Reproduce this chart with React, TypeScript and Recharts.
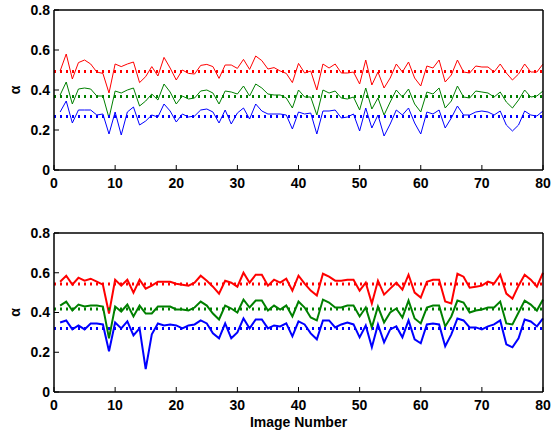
import React from "react";
import { LineChart, Line, XAxis, YAxis, ReferenceLine } from "recharts";

const imageNumbers = [
  1, 2, 3, 4, 5, 6, 7, 8, 9, 10, 11, 12, 13, 14, 15, 16, 17, 18, 19, 20,
  21, 22, 23, 24, 25, 26, 27, 28, 29, 30, 31, 32, 33, 34, 35, 36, 37, 38, 39, 40,
  41, 42, 43, 44, 45, 46, 47, 48, 49, 50, 51, 52, 53, 54, 55, 56, 57, 58, 59, 60,
  61, 62, 63, 64, 65, 66, 67, 68, 69, 70, 71, 72, 73, 74, 75, 76, 77, 78, 79, 80,
];

const xTicks = [0, 10, 20, 30, 40, 50, 60, 70, 80];
const yTicks = [0, 0.2, 0.4, 0.6, 0.8];

// upper panel
const topRed = [
  0.495, 0.58, 0.455, 0.537, 0.55, 0.53, 0.49, 0.483, 0.385, 0.53,
  0.517, 0.53, 0.54, 0.437, 0.467, 0.517, 0.47, 0.563, 0.51, 0.45,
  0.5, 0.483, 0.48, 0.523, 0.528, 0.517, 0.458, 0.525, 0.525, 0.508,
  0.553, 0.503, 0.57, 0.547, 0.505, 0.512, 0.495, 0.483, 0.437, 0.533,
  0.485, 0.495, 0.4, 0.53, 0.51, 0.53, 0.485, 0.485, 0.49, 0.43,
  0.55, 0.425, 0.49, 0.41, 0.46, 0.53, 0.49, 0.54, 0.46, 0.42,
  0.52, 0.51, 0.55, 0.44, 0.475, 0.55, 0.49, 0.485, 0.52, 0.515,
  0.515, 0.49, 0.53, 0.485, 0.45, 0.48, 0.53, 0.49, 0.49, 0.53,
];
const topGreen = [
  0.375, 0.44, 0.33, 0.405, 0.41, 0.405, 0.37, 0.37, 0.26, 0.395,
  0.385, 0.4, 0.41, 0.32, 0.345, 0.38, 0.35, 0.43, 0.39, 0.33,
  0.37, 0.355, 0.36, 0.395, 0.4, 0.385, 0.33, 0.395, 0.39, 0.38,
  0.42, 0.37, 0.43, 0.41, 0.38, 0.375, 0.375, 0.36, 0.31, 0.4,
  0.365, 0.365, 0.275, 0.4, 0.385, 0.395, 0.36, 0.355, 0.365, 0.3,
  0.41, 0.305, 0.36, 0.275, 0.34, 0.4, 0.365, 0.405, 0.33, 0.29,
  0.39, 0.38, 0.41, 0.31, 0.345, 0.42, 0.365, 0.36, 0.395, 0.39,
  0.385, 0.365, 0.39, 0.34, 0.31, 0.35, 0.4, 0.365, 0.37, 0.395,
];
const topBlue = [
  0.29, 0.345, 0.235, 0.3, 0.3, 0.3, 0.275, 0.28, 0.18, 0.29,
  0.175, 0.29, 0.315, 0.225, 0.245, 0.275, 0.265, 0.33, 0.295, 0.24,
  0.28, 0.265, 0.27, 0.3, 0.305, 0.29, 0.235, 0.3, 0.23, 0.285,
  0.31, 0.255, 0.33, 0.295, 0.28, 0.28, 0.28, 0.275, 0.205, 0.29,
  0.28, 0.285, 0.18, 0.295, 0.295, 0.3, 0.26, 0.265, 0.28, 0.195,
  0.31, 0.21, 0.275, 0.17, 0.23, 0.3, 0.275, 0.31, 0.235, 0.18,
  0.29, 0.28, 0.3, 0.21, 0.26, 0.32, 0.275, 0.275, 0.29, 0.295,
  0.29, 0.275, 0.295, 0.225, 0.195, 0.225, 0.295, 0.275, 0.27, 0.295,
];
const topMeans = [0.492, 0.367, 0.267];

// lower panel
const botRed = [
  0.555, 0.585, 0.54, 0.575, 0.56, 0.57, 0.555, 0.54, 0.395, 0.565,
  0.535, 0.565, 0.5, 0.565, 0.52, 0.535, 0.555, 0.555, 0.555, 0.545,
  0.54, 0.535, 0.55, 0.585, 0.56, 0.53, 0.495, 0.56, 0.55, 0.53,
  0.6, 0.55, 0.59, 0.59, 0.535, 0.565, 0.55, 0.57, 0.51, 0.585,
  0.545, 0.51, 0.485, 0.595, 0.58, 0.56, 0.56, 0.565, 0.565, 0.51,
  0.55, 0.445, 0.56, 0.49, 0.52, 0.55, 0.515, 0.59, 0.5, 0.475,
  0.555, 0.565, 0.565, 0.455, 0.445, 0.595, 0.58, 0.525, 0.53, 0.535,
  0.555, 0.545, 0.59, 0.495, 0.47, 0.535, 0.59, 0.565, 0.53, 0.6,
];
const botGreen = [
  0.435, 0.455, 0.41, 0.44, 0.43, 0.435, 0.435, 0.43, 0.27, 0.43,
  0.405, 0.44, 0.38, 0.435, 0.395, 0.395, 0.43, 0.43, 0.43, 0.415,
  0.415, 0.41, 0.425, 0.455, 0.435, 0.395, 0.365, 0.435, 0.42, 0.4,
  0.465, 0.425, 0.46, 0.46, 0.41, 0.435, 0.415, 0.435, 0.38, 0.455,
  0.425, 0.375, 0.36, 0.465, 0.45, 0.425, 0.425, 0.435, 0.435, 0.38,
  0.425, 0.325, 0.43, 0.35, 0.4, 0.42, 0.375, 0.46, 0.37, 0.345,
  0.425, 0.435, 0.435, 0.33, 0.38, 0.46, 0.45, 0.4, 0.41, 0.415,
  0.425, 0.425, 0.455, 0.345, 0.34, 0.4, 0.46, 0.44, 0.41, 0.465,
];
const botBlue = [
  0.35, 0.36, 0.315, 0.335, 0.315, 0.345, 0.345, 0.34, 0.205, 0.35,
  0.32, 0.355, 0.285, 0.32, 0.115, 0.29, 0.345, 0.335, 0.34, 0.335,
  0.32, 0.335, 0.34, 0.36, 0.345, 0.295, 0.27, 0.345, 0.27, 0.3,
  0.37, 0.32, 0.365, 0.365, 0.32, 0.335, 0.33, 0.345, 0.28, 0.355,
  0.34, 0.295, 0.265, 0.36, 0.36, 0.325, 0.34, 0.35, 0.34, 0.275,
  0.335, 0.225, 0.34, 0.25, 0.315, 0.33, 0.275, 0.36, 0.265, 0.245,
  0.34, 0.345, 0.34, 0.23, 0.29, 0.37, 0.36, 0.325, 0.325, 0.315,
  0.33, 0.34, 0.36, 0.24, 0.225, 0.27, 0.365, 0.355, 0.33, 0.37,
];
const botMeans = [0.543, 0.418, 0.32];

const colors = ["#ff0000", "#008000", "#0000ff"];

const font = "'Liberation Sans', Arial, Helvetica, sans-serif";
const tickStyle = { fontFamily: font, fontWeight: "bold", fontSize: 14, fill: "#000" };
const axisLine = { stroke: "#000", strokeWidth: 1.5 };

const AlphaLabel = ({ viewBox }: any) => {
  const cx = 14.5;
  const cy = viewBox.y + viewBox.height / 2;
  return (
    <text
      x={cx}
      y={cy}
      transform={`rotate(-90 ${cx} ${cy})`}
      textAnchor="middle"
      dominantBaseline="central"
      style={{ fontFamily: font, fontWeight: "bold", fontSize: 14, fill: "#000" }}
    >
      α
    </text>
  );
};

function Panel({
  red,
  green,
  blue,
  means,
  top,
  height,
  marginTop,
  xHeight,
  lineWidth,
  xLabel,
}: {
  red: number[];
  green: number[];
  blue: number[];
  means: number[];
  top: number;
  height: number;
  marginTop: number;
  xHeight: number;
  lineWidth: number;
  xLabel?: string;
}) {
  const data = imageNumbers.map((n, i) => ({ n, r: red[i], g: green[i], b: blue[i] }));
  return (
    <div style={{ position: "absolute", left: 0, top }}>
      <LineChart width={553} height={height} data={data} margin={{ top: marginTop - 1, right: 9, bottom: 0, left: 0 }}>
        <XAxis
          dataKey="n"
          type="number"
          domain={[0, 80]}
          ticks={xTicks}
          height={xHeight}
          tickSize={-5}
          tickMargin={13}
          tick={tickStyle}
          axisLine={axisLine}
          tickLine={{ stroke: "#000" }}
          label={xLabel ? { value: xLabel, position: "insideBottom", offset: 7, style: tickStyle } : undefined}
        />
        <XAxis
          xAxisId="top"
          orientation="top"
          dataKey="n"
          type="number"
          domain={[0, 80]}
          ticks={xTicks}
          height={1}
          tickSize={-5}
          tick={false}
          axisLine={axisLine}
          tickLine={{ stroke: "#000" }}
        />
        <YAxis
          type="number"
          domain={[0, 0.8]}
          ticks={yTicks}
          width={54}
          tickSize={-5}
          tickMargin={9}
          tick={tickStyle}
          axisLine={axisLine}
          tickLine={{ stroke: "#000" }}
          label={<AlphaLabel />}
        />
        <YAxis
          yAxisId="right"
          orientation="right"
          type="number"
          domain={[0, 0.8]}
          ticks={yTicks}
          width={1}
          tickSize={-5}
          tick={false}
          axisLine={axisLine}
          tickLine={{ stroke: "#000" }}
        />
        <Line dataKey="r" stroke={colors[0]} strokeWidth={lineWidth} dot={false} isAnimationActive={false} />
        <Line dataKey="g" stroke={colors[1]} strokeWidth={lineWidth} dot={false} isAnimationActive={false} />
        <Line dataKey="b" stroke={colors[2]} strokeWidth={lineWidth} dot={false} isAnimationActive={false} />
        {means.map((m, i) => (
          <ReferenceLine key={i} y={m} stroke={colors[i]} strokeWidth={3} strokeDasharray="2 4" />
        ))}
      </LineChart>
    </div>
  );
}

export default function App() {
  return (
    <div style={{ position: "absolute", left: 0, top: 0, width: 553, height: 434, background: "#fff" }}>
      <Panel red={topRed} green={topGreen} blue={topBlue} means={topMeans} top={0} height={200} marginTop={10} xHeight={30} lineWidth={1} />
      <Panel
        red={botRed}
        green={botGreen}
        blue={botBlue}
        means={botMeans}
        top={200}
        height={234}
        marginTop={33}
        xHeight={42}
        lineWidth={2}
        xLabel="Image Number"
      />
    </div>
  );
}
